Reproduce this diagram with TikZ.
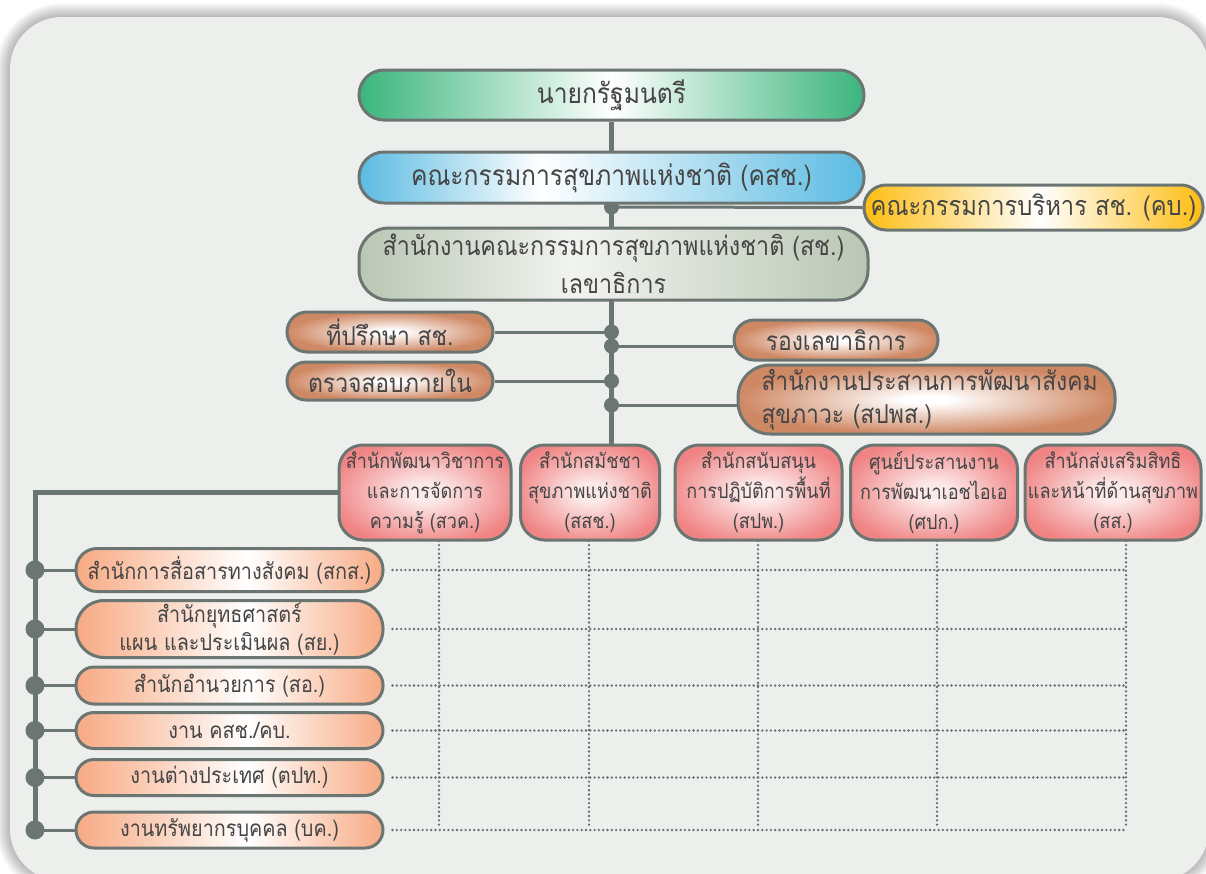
\documentclass[tikz,border=0pt]{standalone}
\usepackage{fontspec}
\newfontfamily\thai[Script=Thai,FakeStretch=0.88]{Loma}
\usetikzlibrary{calc}
\definecolor{panel}{HTML}{EDEFEC}
\definecolor{lin}{HTML}{6B7572}
\definecolor{dotc}{HTML}{66706C}
\definecolor{txt}{HTML}{454545}
\definecolor{greenE}{HTML}{3BB57D}
\definecolor{blueE}{HTML}{5BBBE2}
\definecolor{yelE}{HTML}{FDBD12}
\definecolor{grayE}{HTML}{BAC6B4}
\definecolor{grayM}{HTML}{F1F3EF}
\definecolor{brownE}{HTML}{CF8864}
\definecolor{redE}{HTML}{F08484}
\definecolor{redM}{HTML}{FCE9E9}
\definecolor{salE}{HTML}{F7AA83}
\pgfdeclarelayer{bg}\pgfdeclarelayer{lines}
\pgfsetlayers{bg,lines,main}
\pgfdeclarehorizontalshading{shGreen}{100bp}{color(0bp)=(greenE); color(25bp)=(greenE); color(50bp)=(white); color(75bp)=(greenE); color(100bp)=(greenE)}
\pgfdeclarehorizontalshading{shBlue}{100bp}{color(0bp)=(blueE); color(25bp)=(blueE); color(43bp)=(white); color(75bp)=(blueE); color(100bp)=(blueE)}
\pgfdeclarehorizontalshading{shYel}{100bp}{color(0bp)=(yelE); color(25bp)=(yelE); color(51bp)=(white); color(75bp)=(yelE); color(100bp)=(yelE)}
\pgfdeclarehorizontalshading{shGray}{100bp}{color(0bp)=(grayE); color(25bp)=(grayE); color(46bp)=(grayM); color(75bp)=(grayE); color(100bp)=(grayE)}
\pgfdeclarehorizontalshading{shSal}{100bp}{color(0bp)=(salE); color(25bp)=(salE); color(53bp)=(white); color(75bp)=(salE); color(100bp)=(salE)}
\pgfdeclareradialshading{shBrown}{\pgfpoint{0bp}{0bp}}{color(0bp)=(white); color(3bp)=(white); color(25bp)=(brownE); color(50bp)=(brownE)}
\pgfdeclareradialshading{shRed}{\pgfpoint{0bp}{0bp}}{color(0bp)=(redM); color(5bp)=(redM); color(28bp)=(redE); color(50bp)=(redE)}
\tikzset{
  box/.style={draw=lin, line width=3pt, text=txt, inner sep=0pt, align=center, shade},
  topbox/.style={box, font=\thai\fontsize{28}{38}\selectfont},
  brownbox/.style={box, shading=shBrown, font=\thai\fontsize{26}{33}\selectfont},
  redbox/.style={box, shading=shRed, minimum height=95pt, rounded corners=24pt, font=\thai\fontsize{20.5}{30}\selectfont},
  salbox/.style={box, shading=shSal, minimum width=307pt, font=\thai\fontsize{22.5}{28}\selectfont},
  trunk/.style={draw=lin, line width=5pt},
  branch/.style={draw=lin, line width=3pt},
  dotline/.style={draw=dotc, line width=2.6pt, dash pattern=on 0pt off 4.3pt, line cap=round},
  jdot/.style={fill=lin}
}
\begin{document}
\begin{tikzpicture}[x=1pt,y=-1pt]
\useasboundingbox (0,0) rectangle (1206,873);
\begin{pgfonlayer}{bg}
  \fill[white] (0,0) rectangle (1206,873);
  \foreach \i in {1,...,14}{
    \pgfmathsetmacro\rr{52+\i}
    \fill[black, opacity=0.02, rounded corners=\rr pt] (10-\i,17-\i) rectangle (1209+\i,881+\i);
  }
  \fill[panel, rounded corners=52pt] (10,17) rectangle (1209,881);
\end{pgfonlayer}

% top chain
\node[topbox, shading=shGreen, minimum width=505pt, minimum height=50pt, rounded corners=25pt] (pm) at (611.5,95) {นายกรัฐมนตรี};
\node[topbox, shading=shBlue, minimum width=505pt, minimum height=51pt, rounded corners=25pt] (nhc) at (611.5,177.5) {คณะกรรมการสุขภาพแห่งชาติ (คสช.)};
\node[topbox, shading=shYel, minimum width=339pt, minimum height=45pt, rounded corners=22pt, font=\thai\fontsize{27}{30}\selectfont] (kb) at (1033.5,207.5) {คณะกรรมการบริหาร สช. (คบ.)};
\node[topbox, shading=shGray, minimum width=509pt, minimum height=72pt, rounded corners=30pt, font=\thai\fontsize{26.5}{38}\selectfont] (sch) at (613.5,264) {สำนักงานคณะกรรมการสุขภาพแห่งชาติ (สช.)\\เลขาธิการ};

% brown boxes
\node[brownbox, minimum width=206pt, minimum height=40pt, rounded corners=20pt] (adv) at (390,332) {ที่ปรึกษา สช.};
\node[brownbox, minimum width=204pt, minimum height=40pt, rounded corners=20pt] (dep) at (836,340) {รองเลขาธิการ};
\node[brownbox, minimum width=206pt, minimum height=38pt, rounded corners=19pt] (audit) at (390,381) {ตรวจสอบภายใน};
\node[brownbox, minimum width=377pt, minimum height=69pt, rounded corners=32pt, text width=330pt, align=left] (spps) at (926.5,399.5) {สำนักงานประสานการพัฒนาสังคม\\สุขภาวะ (สปพส.)};

% red boxes
\node[redbox, minimum width=172pt] (a) at (425,492.5) {สำนักพัฒนาวิชาการ\\และการจัดการ\\ความรู้ (สวค.)};
\node[redbox, minimum width=139pt] (b) at (590,492.5) {สำนักสมัชชา\\สุขภาพแห่งชาติ\\(สสช.)};
\node[redbox, minimum width=167pt] (c) at (758.5,492.5) {สำนักสนับสนุน\\การปฏิบัติการพื้นที่\\(สปพ.)};
\node[redbox, minimum width=167pt] (d) at (934,492.5) {ศูนย์ประสานงาน\\การพัฒนาเอชไอเอ\\(ศปก.)};
\node[redbox, minimum width=176pt] (e) at (1113,492.5) {สำนักส่งเสริมสิทธิ\\และหน้าที่ด้านสุขภาพ\\(สส.)};

% salmon boxes
\node[salbox, minimum height=43pt, rounded corners=21pt] (s1) at (229.5,570) {สำนักการสื่อสารทางสังคม (สกส.)};
\node[salbox, minimum height=57pt, rounded corners=28pt] (s2) at (229.5,629) {สำนักยุทธศาสตร์\\แผน และประเมินผล (สย.)};
\node[salbox, minimum height=37pt, rounded corners=18pt] (s3) at (229.5,685.5) {สำนักอำนวยการ (สอ.)};
\node[salbox, minimum height=36pt, rounded corners=18pt] (s4) at (229.5,730.5) {งาน คสช./คบ.};
\node[salbox, minimum height=36pt, rounded corners=18pt] (s5) at (229.5,777.5) {งานต่างประเทศ (ตปท.)};
\node[salbox, minimum height=36pt, rounded corners=18pt] (s6) at (229.5,830) {งานทรัพยากรบุคคล (บค.)};

% junction coordinates
\coordinate (j1) at (611.5,207);
\coordinate (j2) at (611.5,332);
\coordinate (j3) at (611.5,346);
\coordinate (j4) at (611.5,381);
\coordinate (j5) at (611.5,405);
\coordinate (bb) at (35,830);
\coordinate (va) at (439,827);
\coordinate (vb) at (589,827);
\coordinate (vc) at (758,827);
\coordinate (vd) at (937,827);
\coordinate (ve) at (1126,827);

\begin{pgfonlayer}{lines}
  \draw[white, line width=3pt] ([xshift=12pt]sch.west |- 0,267) -- ([xshift=-8pt]sch.east |- 0,267);
  \draw[trunk] (pm.south) -- (pm.south |- b.north);
  \draw[branch] (j1) -- (kb.west);
  \draw[branch] (j2) -- (adv.east);
  \draw[branch] (j3) -- (j3 -| dep.west);
  \draw[branch] (j4) -- (audit.east);
  \draw[branch] (j5) -- (j5 -| spps.west);
  \foreach \j in {j1,j2,j3,j4,j5}{\fill[jdot] (\j) circle (7.5pt);}
  \draw[trunk] (a.west) -| (bb);
  \foreach \s in {s1,s2,s3,s4,s5,s6}{
    \draw[branch] (bb |- \s.west) -- (\s.west);
    \fill[jdot] (bb |- \s.west) circle (9.5pt);
    \draw[dotline] ([xshift=8pt]\s.east) -- (\s.east -| ve);
  }
  \draw[dotline] ([yshift=5pt]va |- a.south) -- (va);
  \draw[dotline] ([yshift=5pt]vb |- b.south) -- (vb);
  \draw[dotline] ([yshift=5pt]vc |- c.south) -- (vc);
  \draw[dotline] ([yshift=5pt]vd |- d.south) -- (vd);
  \draw[dotline] ([yshift=5pt]ve |- e.south) -- (ve);
\end{pgfonlayer}
\end{tikzpicture}
\end{document}
